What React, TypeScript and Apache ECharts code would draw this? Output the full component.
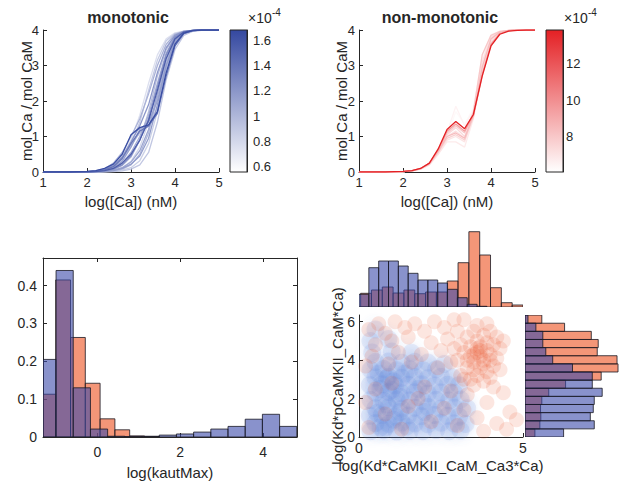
import React, { useEffect, useRef } from 'react';
import * as echarts from 'echarts';

// ---------- data ----------
const caLog = [1, 1.2, 1.4, 1.6, 1.8, 2, 2.2, 2.4, 2.6, 2.8, 3, 3.2, 3.4, 3.6, 3.8, 4, 4.2, 4.4, 4.6, 4.8, 5];

const monoColorValues = [0.75, 0.8, 0.85, 0.88, 0.9, 0.93, 0.96, 1.0, 1.03, 1.06, 1.1, 1.13, 1.16, 1.2, 1.25, 1.4, 1.55, 1.65];
const monoCurves = [
  [0, 0, 0, 0, 0, 0.01, 0.03, 0.08, 0.2, 0.45, 0.9, 1.6, 2.5, 3.3, 3.75, 3.92, 3.97, 3.99, 4, 4, 4],
  [0, 0, 0, 0, 0, 0, 0.01, 0.02, 0.05, 0.12, 0.3, 0.7, 1.4, 2.4, 3.3, 3.78, 3.94, 3.98, 4, 4, 4],
  [0, 0, 0, 0, 0, 0, 0, 0.01, 0.02, 0.05, 0.12, 0.32, 0.8, 1.7, 2.8, 3.55, 3.88, 3.97, 4, 4, 4],
  [0, 0, 0, 0, 0, 0.01, 0.02, 0.06, 0.16, 0.38, 0.8, 1.4, 2.3, 3.15, 3.7, 3.9, 3.97, 3.99, 4, 4, 4],
  [0, 0, 0, 0, 0, 0, 0, 0, 0.01, 0.03, 0.08, 0.2, 0.55, 1.4, 2.6, 3.45, 3.85, 3.96, 3.99, 4, 4],
  [0, 0, 0, 0, 0, 0.01, 0.02, 0.06, 0.15, 0.35, 0.75, 1.1, 1.3, 1.8, 2.9, 3.65, 3.92, 3.98, 4, 4, 4],
  [0, 0, 0, 0, 0, 0, 0.01, 0.03, 0.07, 0.18, 0.42, 0.9, 1.7, 2.7, 3.45, 3.83, 3.95, 3.99, 4, 4, 4],
  [0, 0, 0, 0, 0, 0, 0, 0.01, 0.03, 0.08, 0.2, 0.5, 1.1, 2.1, 3.1, 3.7, 3.92, 3.98, 4, 4, 4],
  [0, 0, 0, 0, 0, 0.01, 0.03, 0.09, 0.25, 0.55, 1.0, 1.5, 2.2, 3.0, 3.6, 3.88, 3.96, 3.99, 4, 4, 4],
  [0, 0, 0, 0, 0, 0, 0.01, 0.04, 0.1, 0.25, 0.55, 1.0, 1.6, 2.5, 3.35, 3.8, 3.95, 3.99, 4, 4, 4],
  [0, 0, 0, 0, 0, 0, 0, 0.02, 0.05, 0.12, 0.28, 0.6, 1.2, 2.2, 3.2, 3.75, 3.93, 3.98, 4, 4, 4],
  [0, 0, 0, 0, 0, 0.01, 0.02, 0.05, 0.12, 0.3, 0.7, 1.2, 1.4, 2.0, 3.0, 3.7, 3.93, 3.98, 4, 4, 4],
  [0, 0, 0, 0, 0, 0, 0.01, 0.02, 0.04, 0.1, 0.22, 0.45, 0.95, 1.9, 3.0, 3.65, 3.9, 3.98, 4, 4, 4],
  [0, 0, 0, 0, 0, 0.01, 0.03, 0.07, 0.18, 0.42, 0.85, 1.3, 1.9, 2.8, 3.5, 3.85, 3.96, 3.99, 4, 4, 4],
  [0, 0, 0, 0, 0, 0, 0.01, 0.03, 0.08, 0.2, 0.45, 0.9, 1.5, 2.4, 3.3, 3.8, 3.95, 3.99, 4, 4, 4],
  [0, 0, 0, 0, 0, 0.01, 0.02, 0.06, 0.15, 0.38, 0.8, 1.15, 1.3, 1.65, 2.7, 3.55, 3.9, 3.98, 4, 4, 4],
  [0, 0, 0, 0, 0, 0, 0.01, 0.04, 0.1, 0.25, 0.5, 0.9, 1.45, 2.3, 3.2, 3.75, 3.94, 3.99, 4, 4, 4],
  [0, 0, 0, 0, 0.01, 0.02, 0.04, 0.1, 0.22, 0.5, 1.05, 1.25, 1.33, 1.7, 2.8, 3.6, 3.91, 3.98, 4, 4, 4],
];

const nonColorValues = [6.3, 6.5, 6.8, 7.0, 7.2, 7.4, 7.7, 8.0, 8.4, 9.5, 13.8];
const nonCurves = [
  [0, 0, 0, 0, 0, 0.01, 0.03, 0.09, 0.22, 0.55, 1.0, 1.7, 1.35, 1.8, 3.3, 3.88, 3.97, 3.99, 4, 4, 4],
  [0, 0, 0, 0, 0, 0.01, 0.03, 0.1, 0.24, 0.6, 1.1, 1.85, 1.3, 1.75, 3.2, 3.85, 3.96, 3.99, 4, 4, 4],
  [0, 0, 0, 0, 0, 0.01, 0.03, 0.08, 0.2, 0.5, 0.85, 0.85, 0.7, 1.5, 3.0, 3.75, 3.94, 3.99, 4, 4, 4],
  [0, 0, 0, 0, 0, 0.01, 0.03, 0.08, 0.2, 0.5, 0.9, 1.0, 0.85, 1.55, 2.9, 3.7, 3.93, 3.98, 4, 4, 4],
  [0, 0, 0, 0, 0, 0.01, 0.03, 0.09, 0.22, 0.55, 1.0, 1.15, 0.95, 1.6, 3.1, 3.8, 3.95, 3.99, 4, 4, 4],
  [0, 0, 0, 0, 0, 0.01, 0.03, 0.09, 0.23, 0.58, 1.05, 1.25, 1.0, 1.6, 2.8, 3.65, 3.92, 3.98, 4, 4, 4],
  [0, 0, 0, 0, 0, 0.01, 0.03, 0.09, 0.22, 0.55, 0.95, 1.05, 0.9, 1.55, 2.7, 3.6, 3.9, 3.98, 4, 4, 4],
  [0, 0, 0, 0, 0, 0.01, 0.03, 0.1, 0.25, 0.6, 1.1, 1.3, 1.1, 1.7, 3.3, 3.85, 3.96, 3.99, 4, 4, 4],
  [0, 0, 0, 0, 0, 0.01, 0.03, 0.09, 0.23, 0.58, 1.0, 1.1, 0.95, 1.6, 2.95, 3.75, 3.94, 3.99, 4, 4, 4],
  [0, 0, 0, 0, 0, 0.01, 0.03, 0.1, 0.25, 0.62, 1.15, 1.35, 1.15, 1.6, 2.75, 3.6, 3.9, 3.98, 4, 4, 4],
  [0, 0, 0, 0, 0.01, 0.02, 0.04, 0.1, 0.25, 0.65, 1.2, 1.42, 1.22, 1.62, 2.7, 3.55, 3.88, 3.97, 3.99, 4, 4],
];

const monoBarRange = [0.56, 1.68];
const monoBarTicks = [0.6, 0.8, 1, 1.2, 1.4, 1.6];
const nonBarRange = [6.1, 13.8];
const nonBarTicks = [8, 10, 12];

const kautTicks = [0, 2, 4];
const kautFracTicks = [0, 0.1, 0.2, 0.3, 0.4];
const kautMonoStart = -1.41;
const kautMonoWidth = 0.415;
const kautMono = [0.205, 0.44, 0.13, 0.021, 0.002, 0.001, 0.001, 0.005, 0.008, 0.013, 0.021, 0.028, 0.047, 0.06, 0.028];
const kautNonStart = -1.36;
const kautNonWidth = 0.357;
const kautNon = [0.113, 0.415, 0.263, 0.142, 0.048, 0.019, 0.003, 0.002];

const topMonoStart = 0;
const topMonoWidth = 0.3;
const topMono = [12.7, 39.3, 46, 46, 41, 33.7, 27, 27, 24, 17.7, 9.3, 2.7, 0.7];
const topNonStart = 0.05;
const topNonWidth = 0.33;
const topNon = [13.7, 17, 20, 14, 17, 13.3, 15, 15, 26, 44.3, 75.3, 52, 19.3, 4.3, 2];

const sideStart = 0;
const sideWidth = 0.423;
const sideMono = [39, 70, 66, 69, 70, 78, 68, 68, 48, 28, 21, 18, 18, 11, 3];
const sideNon = [10, 15, 16, 15.7, 17, 24, 41, 77, 94, 93, 73, 74, 67, 40, 17];

const scatterXTicks = [0, 5];
const scatterYTicks = [0, 2, 4, 6];

const scatterMono = [
  [0.35, 0.3], [0.75, 0.35], [1.15, 0.28], [1.55, 0.33], [1.95, 0.3], [2.35, 0.36], [2.75, 0.3], [3.1, 0.34],
  [0.5, 0.72], [0.9, 0.68], [1.3, 0.75], [1.7, 0.7], [2.1, 0.66], [2.5, 0.74], [2.9, 0.7], [3.25, 0.68],
  [0.33, 1.1], [0.7, 1.14], [1.1, 1.06], [1.5, 1.12], [1.9, 1.08], [2.3, 1.15], [2.7, 1.1], [3.05, 1.06],
  [0.5, 1.5], [0.9, 1.55], [1.3, 1.47], [1.7, 1.52], [2.1, 1.56], [2.5, 1.48], [2.9, 1.53], [3.3, 1.5],
  [0.35, 1.92], [0.75, 1.88], [1.15, 1.95], [1.55, 1.9], [1.95, 1.86], [2.35, 1.94], [2.75, 1.9], [3.1, 1.95],
  [0.5, 2.3], [0.9, 2.34], [1.3, 2.28], [1.7, 2.33], [2.1, 2.27], [2.5, 2.32], [2.9, 2.3],
  [0.33, 2.7], [0.7, 2.74], [1.1, 2.68], [1.5, 2.72], [1.9, 2.75], [2.3, 2.68], [2.7, 2.72], [3.05, 2.7],
  [0.5, 3.1], [0.9, 3.14], [1.3, 3.08], [1.7, 3.12], [2.1, 3.06], [2.5, 3.13], [2.85, 3.1],
  [0.35, 3.5], [0.75, 3.54], [1.15, 3.47], [1.55, 3.52], [1.95, 3.48], [2.35, 3.53],
  [0.5, 3.9], [0.9, 3.93], [1.3, 3.87], [1.7, 3.92], [2.1, 3.88],
  [0.4, 4.4], [1.0, 4.45], [1.6, 4.38], [0.35, 5.0], [0.9, 5.1], [0.5, 5.6], [2.6, 3.8],
  [0.65, 0.5], [1.05, 0.9], [0.85, 1.7], [1.25, 2.1], [0.65, 2.5], [1.05, 2.9], [0.6, 3.3], [1.25, 1.3],
  [0.85, 3.05], [1.45, 0.55], [1.8, 2.5], [2.0, 1.3], [0.55, 1.25], [1.0, 2.45], [1.4, 3.3], [0.8, 0.5],
];

const scatterNon = [
  [3.1, 3.2], [3.3, 3.6], [3.5, 3.9], [3.7, 4.2], [3.9, 4.5], [4.1, 4.8], [3.2, 4.4], [3.4, 4.7], [3.6, 5.0],
  [3.8, 5.3], [4.0, 5.5], [3.3, 5.2], [3.5, 5.5], [3.0, 4.0], [3.6, 4.4], [3.8, 4.0], [4.0, 4.3], [4.2, 4.1],
  [3.7, 3.6], [3.9, 3.4], [4.1, 3.7], [3.4, 3.0], [3.6, 3.2], [3.8, 2.9], [4.0, 3.1], [4.3, 3.5], [3.2, 3.0],
  [3.5, 4.3], [3.7, 4.7], [3.9, 4.9], [4.2, 5.2], [3.3, 4.0], [3.1, 4.8], [3.6, 5.8], [3.9, 5.9], [4.3, 4.6],
  [4.4, 5.0], [3.0, 5.5], [2.9, 4.6], [3.8, 3.8], [3.7, 4.5], [3.5, 3.5], [4.0, 4.0], [3.6, 4.6], [3.4, 4.2],
  [0.3, 5.6], [0.6, 5.9], [0.8, 5.4], [1.1, 6.0], [1.4, 5.7], [1.7, 5.9], [2.0, 5.5], [2.3, 6.0], [2.6, 5.7],
  [2.9, 6.1], [0.5, 4.8], [1.0, 5.0], [1.5, 5.2], [2.2, 4.9], [2.7, 5.1], [0.4, 4.2], [1.2, 4.4], [1.9, 4.3],
  [2.5, 4.5], [0.2, 3.7], [0.9, 3.8], [1.6, 3.9], [2.4, 3.6], [2.8, 3.9], [3.2, 6.1],
  [0.3, 0.5], [0.8, 1.2], [1.3, 0.4], [1.8, 2.0], [2.2, 0.8], [2.6, 1.5], [3.0, 0.6], [3.3, 2.2], [3.6, 1.0],
  [3.9, 1.8], [4.2, 0.7], [4.4, 2.3], [4.6, 1.3], [4.8, 0.9], [4.1, 2.6], [3.5, 2.7], [0.5, 2.5], [1.0, 2.8],
  [1.5, 1.6], [2.0, 2.6], [2.8, 2.4], [3.2, 1.4], [4.5, 0.4], [0.2, 1.8], [3.8, 0.3],
];

// ---------- styles ----------
const FONT = '"Liberation Sans", Arial, Helvetica, sans-serif';
const AX = '#262626';
const EDGE = 'rgba(25,25,35,0.8)';
const MONO_END = [52, 72, 160];
const NON_END = [228, 32, 36];
const HIST_BLUE = 'rgba(58,73,170,0.6)';
const HIST_ORANGE = 'rgba(237,80,30,0.6)';

const mix = (rgb: number[], t: number) => {
  const c = Math.max(0, Math.min(1, t));
  return `rgb(${Math.round(255 + (rgb[0] - 255) * c)},${Math.round(255 + (rgb[1] - 255) * c)},${Math.round(255 + (rgb[2] - 255) * c)})`;
};

const tick = { show: true, inside: true, length: 4, lineStyle: { color: AX, width: 1 } };
const line = { show: true, onZero: false, lineStyle: { color: AX, width: 1 } };
const label = (size: number, margin: number, extra: any = {}) => ({
  color: AX, fontSize: size, fontFamily: FONT, margin, ...extra,
});
const nameStyle = { color: AX, fontSize: 15, fontFamily: FONT };
const hidden = (gridIndex: number, min: number, max: number) => ({
  type: 'value', gridIndex, min, max, show: false, splitLine: { show: false },
});

const histSeries = (start: number, width: number, vals: number[], fill: string, xi: number, yi: number, horiz: boolean) => ({
  type: 'custom',
  xAxisIndex: xi,
  yAxisIndex: yi,
  silent: true,
  clip: true,
  data: vals.map((v, i) => [start + i * width, start + (i + 1) * width, v]),
  encode: horiz ? { x: 2, y: [0, 1] } : { x: [0, 1], y: 2 },
  renderItem: (params: any, api: any) => {
    const a = api.value(0);
    const b = api.value(1);
    const h = api.value(2);
    const p0 = horiz ? api.coord([0, a]) : api.coord([a, 0]);
    const p1 = horiz ? api.coord([h, b]) : api.coord([b, h]);
    const cs = params.coordSys;
    const rect = echarts.graphic.clipRectByRect(
      { x: Math.min(p0[0], p1[0]), y: Math.min(p0[1], p1[1]), width: Math.abs(p1[0] - p0[0]), height: Math.abs(p1[1] - p0[1]) },
      { x: cs.x, y: cs.y, width: cs.width, height: cs.height }
    );
    if (!rect) return null;
    return { type: 'rect', shape: rect, style: { fill, stroke: EDGE, lineWidth: 1 } };
  },
});

const colorbarSeries = (range: number[], end: number[], xi: number, yi: number) => ({
  type: 'custom',
  xAxisIndex: xi,
  yAxisIndex: yi,
  silent: true,
  data: [[0, range[0]]],
  renderItem: (_params: any, api: any) => {
    const p0 = api.coord([0, range[0]]);
    const p1 = api.coord([1, range[1]]);
    return {
      type: 'rect',
      shape: { x: p0[0], y: p1[1], width: p1[0] - p0[0], height: p0[1] - p1[1] },
      style: {
        fill: new echarts.graphic.LinearGradient(0, 1, 0, 0, [
          { offset: 0, color: '#ffffff' },
          { offset: 1, color: mix(end, 1) },
        ]),
        stroke: AX,
        lineWidth: 1,
      },
    };
  },
});

const curveSeries = (curves: number[][], values: number[], range: number[], end: number[], idx: number) =>
  curves.map((c, i) => ({
    type: 'line',
    xAxisIndex: idx,
    yAxisIndex: idx,
    silent: true,
    symbol: 'none',
    showSymbol: false,
    data: caLog.map((x, j) => [x, c[j]]),
    lineStyle: { color: mix(end, (values[i] - range[0]) / (range[1] - range[0])), width: 1.3 },
  }));

export default function App() {
  const ref = useRef<HTMLDivElement>(null);

  useEffect(() => {
    document.body.style.margin = '0';
    if (!ref.current) return;
    const chart = echarts.init(ref.current, null, { renderer: 'svg' });

    const option: any = {
      animation: false,
      backgroundColor: '#ffffff',
      grid: [
        { left: 43, top: 30, width: 176, height: 142 },
        { left: 230, top: 30, width: 17, height: 142 },
        { left: 359, top: 30, width: 176, height: 142 },
        { left: 546, top: 30, width: 17, height: 142 },
        { left: 43, top: 258, width: 254, height: 179 },
        { left: 359, top: 231, width: 164, height: 76 },
        { left: 359, top: 315, width: 164, height: 122 },
        { left: 525, top: 315, width: 96, height: 122 },
      ],
      xAxis: [
        {
          type: 'value', gridIndex: 0, min: 1, max: 5, interval: 1, splitLine: { show: false },
          axisLine: line, axisTick: tick, axisLabel: label(13, 4),
          name: 'log([Ca]) (nM)', nameLocation: 'middle', nameGap: 22, nameMoveOverlap: false, nameTextStyle: nameStyle,
        },
        hidden(1, 0, 1),
        {
          type: 'value', gridIndex: 2, min: 1, max: 5, interval: 1, splitLine: { show: false },
          axisLine: line, axisTick: tick, axisLabel: label(13, 4),
          name: 'log([Ca]) (nM)', nameLocation: 'middle', nameGap: 22, nameMoveOverlap: false, nameTextStyle: nameStyle,
        },
        hidden(3, 0, 1),
        {
          type: 'value', gridIndex: 4, min: -1.31, max: 4.82, splitLine: { show: false },
          axisLine: line, axisTick: { ...tick, customValues: kautTicks },
          axisLabel: label(14, 8, { customValues: kautTicks }),
          name: 'log(kautMax)', nameLocation: 'middle', nameGap: 28, nameMoveOverlap: false, nameTextStyle: nameStyle,
        },
        {
          type: 'value', gridIndex: 4, min: -1.31, max: 4.82, position: 'top', splitLine: { show: false },
          axisLine: line, axisTick: { ...tick, customValues: kautTicks }, axisLabel: { show: false },
        },
        hidden(5, 0, 5),
        {
          type: 'value', gridIndex: 6, min: 0, max: 5, splitLine: { show: false },
          axisLine: line, axisTick: { ...tick, customValues: scatterXTicks },
          axisLabel: label(14, 4, { customValues: scatterXTicks }),
          name: 'log(Kd*CaMKII_CaM_Ca3*Ca)', nameLocation: 'middle', nameGap: 21, nameMoveOverlap: false, nameTextStyle: nameStyle,
        },
        hidden(7, 0, 96),
      ],
      yAxis: [
        {
          type: 'value', gridIndex: 0, min: 0, max: 4, interval: 1, splitLine: { show: false },
          axisLine: line, axisTick: tick, axisLabel: label(13, 4),
          name: 'mol Ca / mol CaM', nameLocation: 'middle', nameGap: 9, nameMoveOverlap: false, nameTextStyle: nameStyle,
        },
        {
          type: 'value', gridIndex: 1, min: monoBarRange[0], max: monoBarRange[1], position: 'right',
          splitLine: { show: false }, axisLine: line, axisTick: { ...tick, customValues: monoBarTicks },
          axisLabel: label(13, 6, { customValues: monoBarTicks }),
        },
        {
          type: 'value', gridIndex: 2, min: 0, max: 4, interval: 1, splitLine: { show: false },
          axisLine: line, axisTick: tick, axisLabel: label(13, 4),
          name: 'mol Ca / mol CaM', nameLocation: 'middle', nameGap: 10, nameMoveOverlap: false, nameTextStyle: nameStyle,
        },
        {
          type: 'value', gridIndex: 3, min: nonBarRange[0], max: nonBarRange[1], position: 'right',
          splitLine: { show: false }, axisLine: line, axisTick: { ...tick, customValues: nonBarTicks },
          axisLabel: label(13, 3, { customValues: nonBarTicks }),
        },
        {
          type: 'value', gridIndex: 4, min: 0, max: 0.473, splitLine: { show: false },
          axisLine: line, axisTick: { ...tick, customValues: kautFracTicks },
          axisLabel: label(14, 6, { customValues: kautFracTicks }),
        },
        {
          type: 'value', gridIndex: 4, min: 0, max: 0.473, position: 'right', splitLine: { show: false },
          axisLine: line, axisTick: { ...tick, customValues: kautFracTicks }, axisLabel: { show: false },
        },
        hidden(5, 0, 76),
        {
          type: 'value', gridIndex: 6, min: 0, max: 6.35, splitLine: { show: false },
          axisLine: line, axisTick: { ...tick, customValues: scatterYTicks },
          axisLabel: label(14, 4, { customValues: scatterYTicks }),
          name: 'log(Kd*pCaMKII_CaM*Ca)', nameLocation: 'middle', nameGap: 14, nameMoveOverlap: false, nameTextStyle: nameStyle,
        },
        hidden(7, 0, 6.35),
      ],
      graphic: [
        { type: 'text', x: 128, y: 17, style: { text: 'monotonic', font: `bold 16px ${FONT}`, fill: AX, align: 'center', verticalAlign: 'middle' } },
        { type: 'text', x: 440, y: 17, style: { text: 'non-monotonic', font: `bold 16px ${FONT}`, fill: AX, align: 'center', verticalAlign: 'middle' } },
        { type: 'text', x: 248, y: 18, style: { text: '×10', font: `14px ${FONT}`, fill: AX, align: 'left', verticalAlign: 'middle' } },
        { type: 'text', x: 272, y: 12, style: { text: '-4', font: `10px ${FONT}`, fill: AX, align: 'left', verticalAlign: 'middle' } },
        { type: 'text', x: 564, y: 18, style: { text: '×10', font: `14px ${FONT}`, fill: AX, align: 'left', verticalAlign: 'middle' } },
        { type: 'text', x: 588, y: 12, style: { text: '-4', font: `10px ${FONT}`, fill: AX, align: 'left', verticalAlign: 'middle' } },
      ],
      series: [
        ...curveSeries(monoCurves, monoColorValues, monoBarRange, MONO_END, 0),
        colorbarSeries(monoBarRange, MONO_END, 1, 1),
        ...curveSeries(nonCurves, nonColorValues, nonBarRange, NON_END, 2),
        colorbarSeries(nonBarRange, NON_END, 3, 3),
        histSeries(kautNonStart, kautNonWidth, kautNon, HIST_ORANGE, 4, 4, false),
        histSeries(kautMonoStart, kautMonoWidth, kautMono, HIST_BLUE, 4, 4, false),
        histSeries(topNonStart, topNonWidth, topNon, HIST_ORANGE, 6, 6, false),
        histSeries(topMonoStart, topMonoWidth, topMono, HIST_BLUE, 6, 6, false),
        {
          type: 'scatter', xAxisIndex: 7, yAxisIndex: 7, silent: true, data: scatterMono, symbolSize: 18,
          itemStyle: { color: 'rgb(95,130,215)', opacity: 0.13, shadowBlur: 8, shadowColor: 'rgb(95,130,215)' },
        },
        {
          type: 'scatter', xAxisIndex: 7, yAxisIndex: 7, silent: true, data: scatterNon, symbolSize: 15,
          itemStyle: { color: 'rgb(235,90,50)', opacity: 0.15 },
        },
        histSeries(sideStart, sideWidth, sideNon, HIST_ORANGE, 8, 8, true),
        histSeries(sideStart, sideWidth, sideMono, HIST_BLUE, 8, 8, true),
      ],
    };

    chart.setOption(option);
    return () => chart.dispose();
  }, []);

  return <div ref={ref} style={{ width: 620, height: 484 }} />;
}
